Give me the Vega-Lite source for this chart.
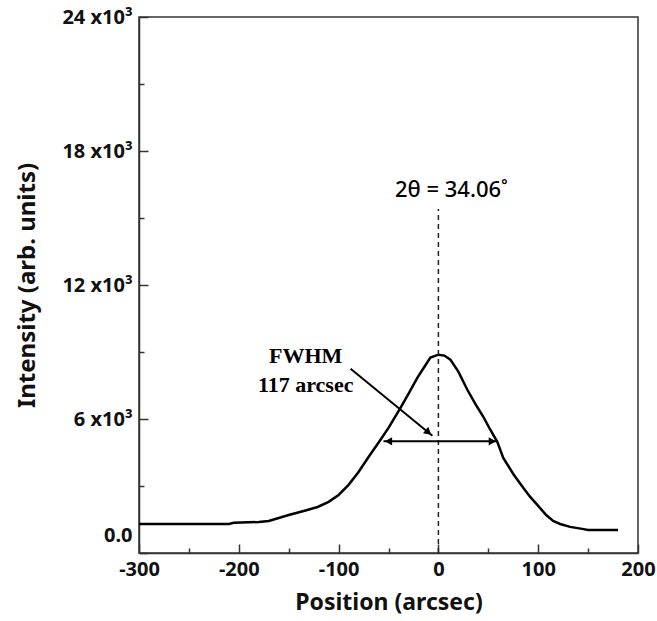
{
  "$schema": "https://vega.github.io/schema/vega-lite/v6.json",
  "autosize": {"type": "none"},
  "padding": {"left": 139, "top": 17, "right": 19, "bottom": 68},
  "width": 499,
  "height": 536,
  "background": "white",
  "config": {
    "view": {"stroke": "#333", "strokeWidth": 1.5},
    "axis": {"grid": false, "domainColor": "#333", "domainWidth": 1.5, "tickColor": "#333", "tickWidth": 1.5, "labelFont": "Noto Sans", "labelFontWeight": "bold", "labelFontSize": 20, "labelColor": "#111", "titleFont": "Noto Sans", "titleFontWeight": "bold", "titleFontSize": 23, "titleColor": "#111"}
  },
  "datasets": {
    "curve": [
      {"pos": -300, "int": 1300}, {"pos": -210, "int": 1300}, {"pos": -205, "int": 1350}, {"pos": -180, "int": 1390},
      {"pos": -170, "int": 1435}, {"pos": -160, "int": 1570}, {"pos": -150, "int": 1700}, {"pos": -135, "int": 1880},
      {"pos": -121, "int": 2060}, {"pos": -110, "int": 2290}, {"pos": -100, "int": 2600}, {"pos": -90, "int": 3050},
      {"pos": -80, "int": 3630}, {"pos": -70, "int": 4300}, {"pos": -58, "int": 5070}, {"pos": -50, "int": 5600},
      {"pos": -38, "int": 6500}, {"pos": -30, "int": 7130}, {"pos": -21, "int": 7850}, {"pos": -14, "int": 8340},
      {"pos": -8, "int": 8750}, {"pos": 0, "int": 8880}, {"pos": 6, "int": 8840}, {"pos": 12, "int": 8660},
      {"pos": 20, "int": 8120}, {"pos": 29, "int": 7310}, {"pos": 37, "int": 6680}, {"pos": 45, "int": 6100},
      {"pos": 52, "int": 5520}, {"pos": 59, "int": 4980}, {"pos": 65, "int": 4260}, {"pos": 75, "int": 3540},
      {"pos": 85, "int": 2920}, {"pos": 92, "int": 2510}, {"pos": 100, "int": 2110}, {"pos": 108, "int": 1700},
      {"pos": 115, "int": 1435}, {"pos": 122, "int": 1300}, {"pos": 132, "int": 1170}, {"pos": 144, "int": 1080},
      {"pos": 150, "int": 1030}, {"pos": 180, "int": 1030}
    ]
  },
  "layer": [
    {
      "data": {"name": "curve"},
      "mark": {"type": "line", "color": "#000", "strokeWidth": 2.5, "clip": true},
      "encoding": {
        "x": {"field": "pos", "type": "quantitative", "scale": {"domain": [-300, 200], "nice": false, "zero": false},
          "axis": {"title": "Position (arcsec)", "values": [-300, -250, -200, -150, -100, -50, 0, 50, 100, 150, 200],
            "labelExpr": "datum.value % 100 === 0 ? '' + datum.value : ''", "labelFlush": false, "labelOverlap": false,
            "tickSize": {"condition": {"test": "datum.value % 100 === 0", "value": -9}, "value": -5},
            "labelPadding": 15, "titlePadding": 8}},
        "y": {"field": "int", "type": "quantitative", "scale": {"domain": [0, 24000], "nice": false},
          "axis": {"title": "Intensity  (arb. units)", "titleFontSize": 24, "values": [0, 3000, 6000, 9000, 12000, 15000, 18000, 21000, 24000],
            "labelExpr": "datum.value % 6000 === 0 ? (datum.value === 0 ? '0.0' : (datum.value / 1000) + ' x10³') : ''",
            "labelOverlap": false, "labelFlush": false,
            "labelOffset": {"condition": {"test": "datum.value === 0", "value": -18}, "value": 0},
            "tickSize": {"condition": {"test": "datum.value % 6000 === 0", "value": -9}, "value": -5},
            "labelPadding": 16, "titlePadding": 22}}
      }
    },
    {
      "data": {"values": [{"x": 0, "y": 0, "y2": 15400}]},
      "mark": {"type": "rule", "color": "#222", "strokeWidth": 1.5, "strokeDash": [5, 4]},
      "encoding": {
        "x": {"field": "x", "type": "quantitative"},
        "y": {"field": "y", "type": "quantitative"},
        "y2": {"field": "y2"}
      }
    },
    {
      "data": {"values": [{"x": -55, "x2": 59, "y": 5000, "y2": 5000}, {"x": -88, "x2": -6, "y": 8250, "y2": 5250}]},
      "mark": {"type": "rule", "color": "#000", "strokeWidth": 2},
      "encoding": {
        "x": {"field": "x", "type": "quantitative"},
        "x2": {"field": "x2"},
        "y": {"field": "y", "type": "quantitative"},
        "y2": {"field": "y2"}
      }
    },
    {
      "data": {"values": [
        {"x": -50, "y": 5000, "shape": "triangle-left", "angle": 0},
        {"x": 54, "y": 5000, "shape": "triangle-right", "angle": 0},
        {"x": -10, "y": 5400, "shape": "triangle-right", "angle": 39}
      ]},
      "mark": {"type": "point", "filled": true, "color": "#000", "size": 70, "opacity": 1},
      "encoding": {
        "x": {"field": "x", "type": "quantitative"},
        "y": {"field": "y", "type": "quantitative"},
        "shape": {"field": "shape", "type": "nominal", "scale": null},
        "angle": {"field": "angle", "type": "quantitative", "scale": null}
      }
    },
    {
      "data": {"values": [
        {"x": -133, "y": 8520, "t": "FWHM"},
        {"x": -133, "y": 7220, "t": "117 arcsec"}
      ]},
      "mark": {"type": "text", "font": "Liberation Serif", "fontWeight": "bold", "fontSize": 22, "color": "#000", "baseline": "alphabetic", "align": "center"},
      "encoding": {
        "x": {"field": "x", "type": "quantitative"},
        "y": {"field": "y", "type": "quantitative"},
        "text": {"field": "t"}
      }
    },
    {
      "data": {"values": [{"x": 13, "y": 15930, "t": "2θ = 34.06˚"}]},
      "mark": {"type": "text", "font": "Noto Sans", "fontWeight": 500, "fontSize": 22, "color": "#000", "baseline": "alphabetic", "align": "center"},
      "encoding": {
        "x": {"field": "x", "type": "quantitative"},
        "y": {"field": "y", "type": "quantitative"},
        "text": {"field": "t"}
      }
    }
  ]
}
